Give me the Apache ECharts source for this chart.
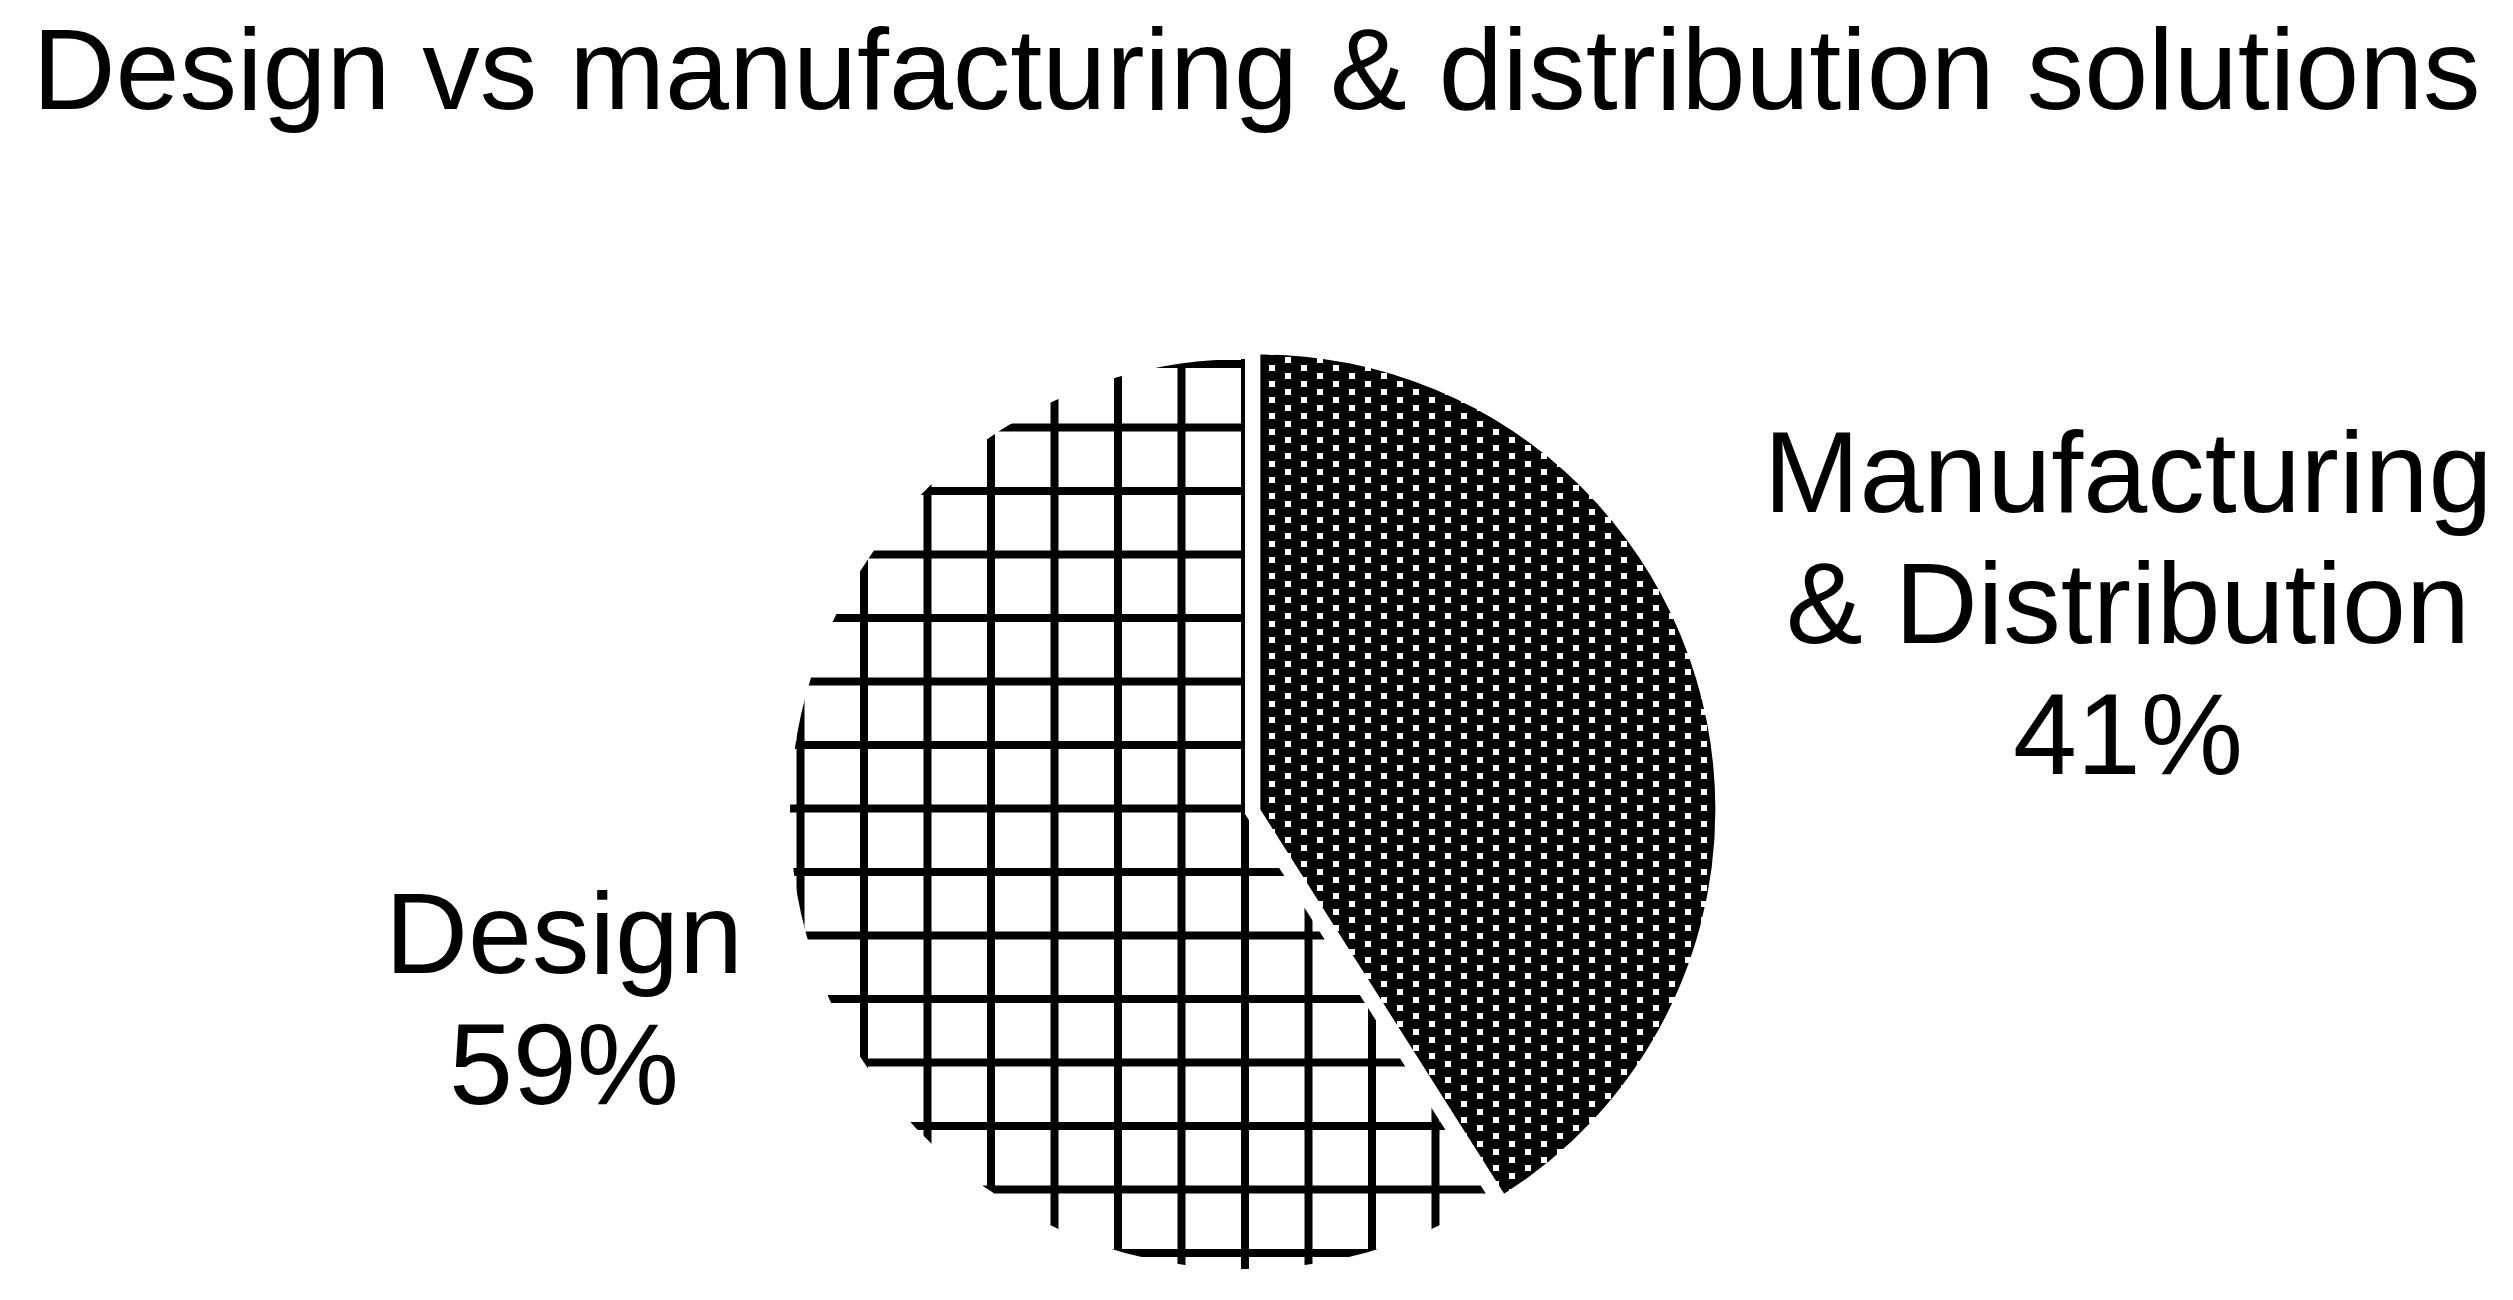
<!DOCTYPE html>
<html>
<head>
<meta charset="utf-8">
<title>Design vs manufacturing & distribution solutions</title>
<script src="https://cdn.jsdelivr.net/npm/echarts@6/dist/echarts.min.js"></script>
<style>
  html, body { margin: 0; padding: 0; background: #fff; }
  #chart { width: 2513px; height: 1300px; }
</style>
</head>
<body>
<div id="chart"></div>
<script>
// data
const categories = ['Manufacturing\n& Distribution', 'Design'];
const shares = [41, 59];

// label block centres (px)
const labelPos = [
  { x: 2128, y: 611 },
  { x: 564, y: 1007 }
];

// pie geometry; the Manufacturing slice is pulled out a little
const pieCenter = [1245, 814];
const pieRadius = 455;
const explode = 16;

// grid hatch for Design: black lines on white, ~63.5px apart
function gridPattern() {
  const c = document.createElement('canvas');
  c.width = 127;
  c.height = 127;
  const ctx = c.getContext('2d');
  ctx.fillStyle = '#fff';
  ctx.fillRect(0, 0, 127, 127);
  ctx.fillStyle = '#000';
  [38.5, 102].forEach(x => ctx.fillRect(x - 4, 0, 8, 127));
  [46.5, 110].forEach(y => ctx.fillRect(0, y - 4, 127, 8));
  return c;
}

// dense dot pattern for Manufacturing: white squares on black, staggered
function dotPattern() {
  const c = document.createElement('canvas');
  c.width = 32;
  c.height = 16;
  const ctx = c.getContext('2d');
  ctx.fillStyle = '#000';
  ctx.fillRect(0, 0, 32, 16);
  ctx.fillStyle = '#fff';
  ctx.fillRect(5, 5, 6, 6);
  ctx.fillRect(21, 13, 6, 6);
  ctx.fillRect(21, -3, 6, 6);
  return c;
}

const fills = [
  { image: dotPattern(), repeat: 'repeat' },
  { image: gridPattern(), repeat: 'repeat' }
];

// mid angle of the first slice, clockwise from 12 o'clock
const total = shares.reduce((a, b) => a + b, 0);
const midAngle = (shares[0] / total) * Math.PI; // half of its sweep
const explodedCenter = [
  pieCenter[0] + Math.sin(midAngle) * explode,
  pieCenter[1] - Math.cos(midAngle) * explode
];

const labelFont = {
  fontFamily: 'Liberation Sans, Arial, sans-serif',
  fontSize: 115,
  lineHeight: 131,
  color: '#000'
};

const chart = echarts.init(document.getElementById('chart'));

const option = {
  animation: false,
  backgroundColor: '#fff',
  title: {
    text: 'Design vs manufacturing & distribution solutions',
    left: 'center',
    top: 15,
    textStyle: {
      fontFamily: 'Liberation Sans, Arial, sans-serif',
      fontSize: 115,
      fontWeight: 'normal',
      color: '#000'
    }
  },
  series: [
    {
      // base pie: Design slice + all labels
      type: 'pie',
      center: pieCenter,
      radius: pieRadius,
      startAngle: 90,
      clockwise: true,
      silent: true,
      label: Object.assign({
        show: true,
        formatter: '{b}\n{d}%',
        align: 'center'
      }, labelFont),
      labelLine: { show: false },
      labelLayout: function (params) {
        const p = labelPos[params.dataIndex];
        return { x: p.x, y: p.y, align: 'center', verticalAlign: 'middle' };
      },
      emphasis: { disabled: true },
      data: categories.map((name, i) => ({
        name: name,
        value: shares[i],
        itemStyle: { color: i === 0 ? 'rgba(0,0,0,0)' : fills[i], borderWidth: 0 }
      }))
    },
    {
      // exploded Manufacturing slice
      type: 'pie',
      center: explodedCenter,
      radius: pieRadius,
      startAngle: 90,
      clockwise: true,
      silent: true,
      label: { show: false },
      labelLine: { show: false },
      emphasis: { disabled: true },
      data: categories.map((name, i) => ({
        name: name,
        value: shares[i],
        itemStyle: { color: i === 0 ? fills[i] : 'rgba(0,0,0,0)', borderWidth: 0 }
      }))
    }
  ]
};

chart.setOption(option);
</script>
</body>
</html>
